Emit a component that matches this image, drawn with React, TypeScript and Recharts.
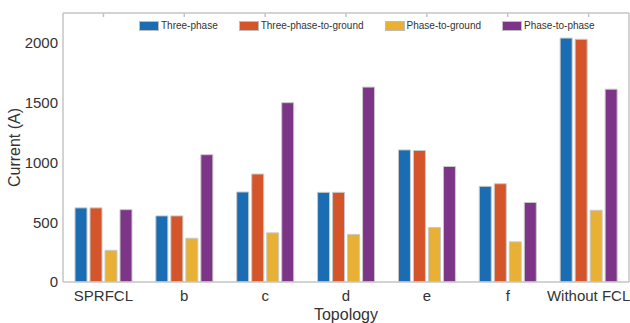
import React from 'react';
import { BarChart, Bar, XAxis, YAxis } from 'recharts';

const categories = ['SPRFCL', 'b', 'c', 'd', 'e', 'f', 'Without FCL'];
const threePhase = [620, 553, 753, 750, 1105, 800, 2040];
const threePhaseToGround = [620, 553, 903, 750, 1100, 822, 2030];
const phaseToGround = [265, 366, 411, 398, 456, 336, 600];
const phaseToPhase = [605, 1065, 1500, 1630, 966, 665, 1613];
const yTicks = [0, 500, 1000, 1500, 2000];

const series = [
  { key: 'threePhase', name: 'Three-phase', color: '#1b6db3', values: threePhase },
  { key: 'threePhaseToGround', name: 'Three-phase-to-ground', color: '#d5552a', values: threePhaseToGround },
  { key: 'phaseToGround', name: 'Phase-to-ground', color: '#e8b035', values: phaseToGround },
  { key: 'phaseToPhase', name: 'Phase-to-phase', color: '#7d3587', values: phaseToPhase },
];

const data = categories.map((c, i) => {
  const row: Record<string, string | number> = { name: c };
  series.forEach((s) => {
    row[s.key] = s.values[i];
  });
  return row;
});

const FONT = '"Liberation Sans", Arial, Helvetica, sans-serif';
const AXIS = '#c4c4c4';

function LegendBox() {
  return (
    <div
      style={{
        position: 'absolute',
        left: 139,
        top: 20,
        display: 'flex',
        alignItems: 'center',
        fontFamily: FONT,
        fontSize: 10,
        color: '#333',
        whiteSpace: 'nowrap',
      }}
    >
      {series.map((s) => (
        <div key={s.key} style={{ display: 'flex', alignItems: 'center', marginRight: 21 }}>
          <div
            style={{
              width: 18,
              height: 8,
              background: s.color,
              border: '1px solid #bdbdbd',
              marginRight: 2,
            }}
          />
          <span>{s.name}</span>
        </div>
      ))}
    </div>
  );
}

export default function App() {
  return (
    <div style={{ position: 'absolute', left: 0, top: 0, width: 630, height: 323, background: '#fff' }}>
      <BarChart
        width={630}
        height={323}
        data={data}
        margin={{ top: 13, right: 1, bottom: 0, left: 0 }}
        barSize={12}
        barGap={3}
        barCategoryGap={12}
      >
        <XAxis
          dataKey="name"
          height={41}
          stroke={AXIS}
          strokeWidth={1.5}
          tickLine={false}
          tick={{ fill: '#333', fontSize: 15, fontFamily: FONT }}
          interval={0}
          label={{ value: 'Topology', position: 'insideBottom', offset: 3, fill: '#333', fontSize: 16, fontFamily: FONT }}
        />
        <XAxis
          xAxisId="top"
          dataKey="name"
          orientation="top"
          height={1}
          stroke={AXIS}
          strokeWidth={1.5}
          mirror
          tickSize={4}
          tickFormatter={() => ''}
          interval={0}
        />
        <YAxis
          width={63}
          domain={[0, 2250]}
          ticks={yTicks}
          allowDataOverflow
          stroke={AXIS}
          strokeWidth={1.5}
          tickLine={false}
          tickMargin={5}
          tickSize={0}
          tick={{ fill: '#333', fontSize: 15, fontFamily: FONT }}
          label={{
            value: 'Current (A)',
            angle: -90,
            position: 'insideLeft',
            offset: 14,
            style: { textAnchor: 'middle' },
            fill: '#333',
            fontSize: 16,
            fontFamily: FONT,
          }}
        />
        <YAxis
          yAxisId="right"
          orientation="right"
          width={1}
          domain={[0, 2250]}
          ticks={yTicks}
          type="number"
          stroke={AXIS}
          strokeWidth={1.5}
          mirror
          tickSize={4}
          tickFormatter={() => ''}
        />
        {series.map((s) => (
          <Bar
            key={s.key}
            dataKey={s.key}
            name={s.name}
            fill={s.color}
            stroke="#c9c9c9"
            strokeWidth={1}
            isAnimationActive={false}
          />
        ))}
      </BarChart>
      <LegendBox />
    </div>
  );
}
